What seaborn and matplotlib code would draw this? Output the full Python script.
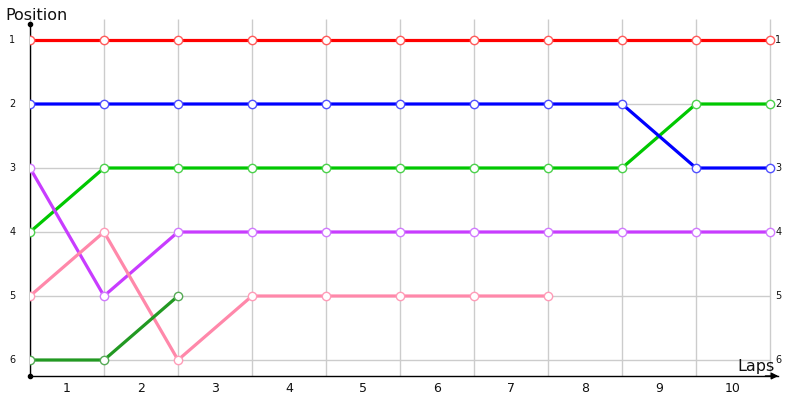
import pandas as pd
import matplotlib
matplotlib.use("Agg")
import matplotlib.pyplot as plt
import seaborn as sns

# grid points (start + end of each lap) and lap labels
grid = [0, 1, 2, 3, 4, 5, 6, 7, 8, 9, 10]
lap_labels = ["1", "2", "3", "4", "5", "6", "7", "8", "9", "10"]
positions = [1, 2, 3, 4, 5, 6]

# position of each driver at each grid point
red = [1, 1, 1, 1, 1, 1, 1, 1, 1, 1, 1]
green = [4, 3, 3, 3, 3, 3, 3, 3, 3, 2, 2]
blue = [2, 2, 2, 2, 2, 2, 2, 2, 2, 3, 3]
purple = [3, 5, 4, 4, 4, 4, 4, 4, 4, 4, 4]
pink = [5, 4, 6, 5, 5, 5, 5, 5]
darkgreen = [6, 6, 5]

series = [
    (red, "#ff0000", "#ff5a5a"),
    (green, "#00c800", "#4cd24c"),
    (blue, "#0000ff", "#5050ff"),
    (purple, "#c83cff", "#d27aff"),
    (pink, "#ff88aa", "#ff9cb8"),
    (darkgreen, "#229922", "#55aa55"),
]

sns.set_style("white")
plt.rcParams['font.family'] = ['DejaVu Sans']

fig = plt.figure(figsize=(8, 4), dpi=100)
ax = fig.add_axes([30 / 800, 24 / 400, 748 / 800, 357 / 400])

for vals, col, edge in series:
    df = pd.DataFrame({"x": grid[:len(vals)], "pos": vals})
    sns.lineplot(data=df, x="x", y="pos", ax=ax, color=col, linewidth=2.3,
                 marker="o", markersize=6, markerfacecolor="white",
                 markeredgecolor=edge, markeredgewidth=1.0, sort=False, zorder=3)

ax.set_xlim(0, 10.108)
ax.set_ylim(6.25, 0.672)

# grid
ax.vlines(grid, 0.672, 6.25, color="#cccccc", linewidth=1, zorder=1)
ax.hlines(positions, 0, 10, color="#cccccc", linewidth=1, zorder=1)

for s in ["top", "right"]:
    ax.spines[s].set_visible(False)
ax.spines["left"].set_bounds(6.25, 0.75)
ax.spines["left"].set_color("black")
ax.spines["bottom"].set_color("black")
ax.spines["left"].set_linewidth(1)
ax.spines["bottom"].set_linewidth(1)
ax.spines["left"].set_zorder(2)

# axis ends
ax.plot([0], [0.75], marker="o", markersize=3, color="black", clip_on=False, zorder=4)
ax.plot([0], [6.25], marker="o", markersize=3, color="black", clip_on=False, zorder=4)
ax.annotate("", xy=(10.15, 6.25), xytext=(9.9, 6.25),
            arrowprops=dict(arrowstyle="-|>", color="black", lw=1, mutation_scale=10),
            annotation_clip=False)

# tick labels
ax.set_xticks([])
ax.set_yticks([])
for i, lab in enumerate(lap_labels):
    ax.text(i + 0.5, 6.45, lab, ha="center", va="center", fontsize=9, color="#111111")
for p in positions:
    ax.text(-0.24, p, str(p), ha="center", va="center", fontsize=7, color="#111111")
    ax.text(10.07, p, str(p), ha="left", va="center", fontsize=7, color="#111111")

fig.text(5 / 800, 1 - 15 / 400, "Position", ha="left", va="center", fontsize=11.5, color="#111111")
fig.text(775 / 800, 1 - 366 / 400, "Laps", ha="right", va="center", fontsize=11.5, color="#111111")

ax.set_xlabel("")
ax.set_ylabel("")
fig.savefig("out.png", dpi=100)
